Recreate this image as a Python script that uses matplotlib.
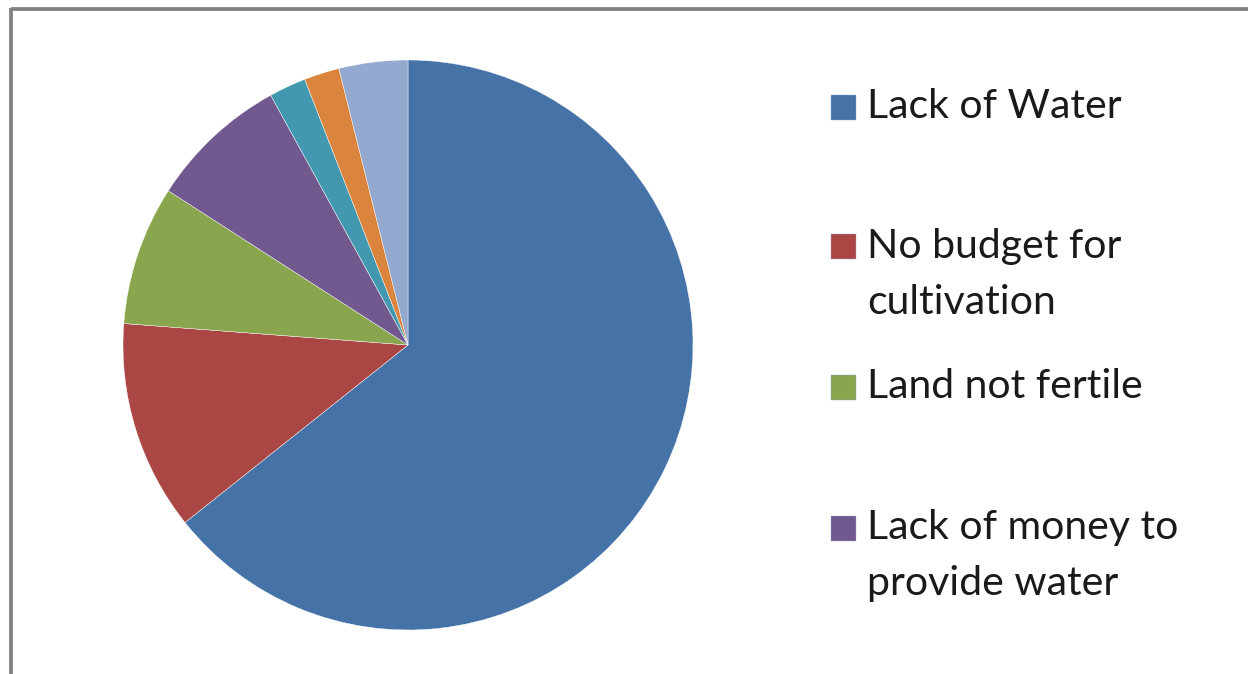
import matplotlib
matplotlib.use("Agg")
import matplotlib.pyplot as plt
from matplotlib.patches import Rectangle
from matplotlib.lines import Line2D

# Shares of reasons (percent), drawn clockwise from 12 o'clock
values = [64.3, 11.9, 7.9, 7.9, 2.1, 2.0, 3.9]
colors = ["#4572A7", "#AA4643", "#89A54E", "#71588F", "#4198AF", "#DB843D", "#93A9CF"]
legend_labels = ["Lack of Water", "No budget for\ncultivation",
                 "Land not fertile", "Lack of money to\nprovide water"]

W, H = 1248, 674
fig = plt.figure(figsize=(W / 100, H / 100), dpi=100)
fig.patch.set_facecolor("white")

def fx(px):
    return px / W

def fy(py):
    return 1 - py / H

# Pie area: circle centred at (408, 345) px with radius 285 px
cx, cy, r = 408, 345, 285
ax = fig.add_axes([fx(cx - r), fy(cy + r), 2 * r / W, 2 * r / H])
ax.pie(values, colors=colors, startangle=90, counterclock=False, radius=1.0,
       wedgeprops=dict(edgecolor="white", linewidth=0.3))
ax.set_xlim(-1, 1)
ax.set_ylim(-1, 1)
ax.set_aspect("auto")
ax.axis("off")

# Chart frame (top and left edges visible)
fig.add_artist(Line2D([fx(11), fx(W + 5)], [fy(9), fy(9)], transform=fig.transFigure,
                      color="#808080", linewidth=2.7, solid_capstyle="butt"))
fig.add_artist(Line2D([fx(11), fx(11)], [fy(7.5), fy(H + 5)], transform=fig.transFigure,
                      color="#808080", linewidth=2.7, solid_capstyle="butt"))

# Legend entries
entry_y = [107, 247, 387, 528]
line_gap = 56
for label, color, y in zip(legend_labels, colors, entry_y):
    fig.add_artist(Rectangle((fx(831), fy(y + 12.5)), 25 / W, 25 / H,
                             transform=fig.transFigure, facecolor=color,
                             edgecolor="#9aa9c8", linewidth=0.3))
    for i, line in enumerate(label.split("\n")):
        fig.text(fx(867), fy(y + i * line_gap), line, fontsize=29.5,
                 family="Lato", color="#1a1a1a", va="center", ha="left")

fig.savefig("out.png", dpi=100, facecolor="white")
